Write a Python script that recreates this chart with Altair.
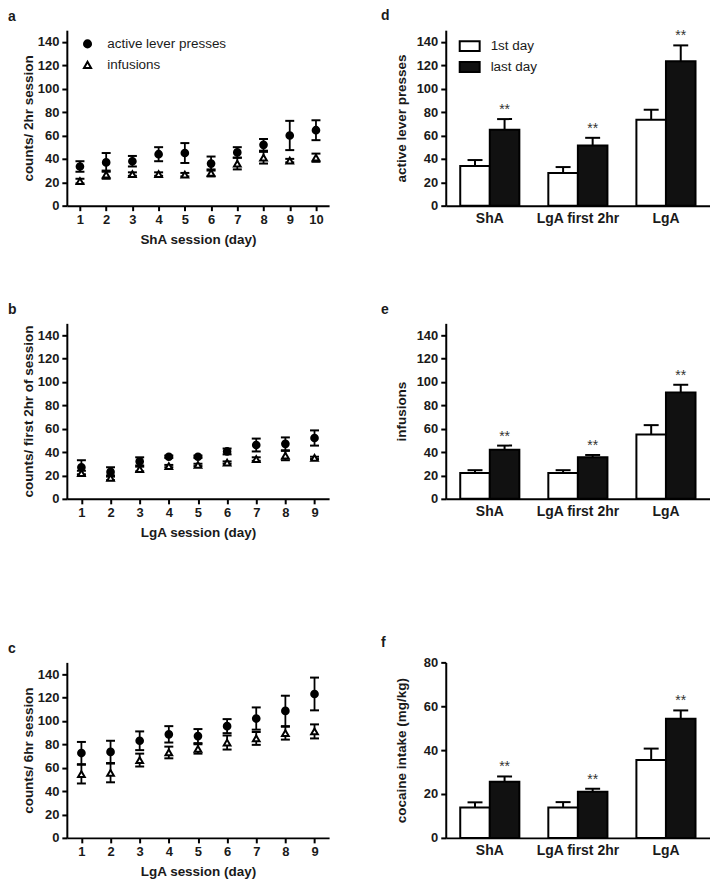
import altair as alt
import pandas as pd

FONT = "Liberation Sans"
TXT = "#1a1a1a"

series_names = ["active lever presses", "infusions"]

# ---- panel a: ShA sessions (counts / 2hr session)
a_days = [1, 2, 3, 4, 5, 6, 7, 8, 9, 10]
a_press = [33.5, 37, 38, 44, 45, 36, 45.5, 52, 60, 64.5]
a_press_sem = [4.5, 8, 4.5, 6, 8.5, 6, 4.5, 5, 12.5, 8.5]
a_inf = [21, 26.5, 27, 27, 26.5, 28, 36, 41, 38.5, 41]
a_inf_sem = [2, 3.5, 1.5, 1.5, 1.5, 3, 5, 5, 1.5, 3.5]

# ---- panel b: LgA sessions (counts / first 2hr)
b_days = [1, 2, 3, 4, 5, 6, 7, 8, 9]
b_press = [27, 23, 32, 36, 36, 40.5, 46, 47, 52]
b_press_sem = [6, 4, 3.5, 1, 1, 2.5, 5.5, 5.5, 6.5]
b_inf = [22, 18, 25.5, 28, 29, 31, 34, 37, 35]
b_inf_sem = [2, 2, 2, 1, 1, 1, 1.5, 4, 1]

# ---- panel c: LgA sessions (counts / 6hr session)
c_days = [1, 2, 3, 4, 5, 6, 7, 8, 9]
c_press = [72.5, 73.5, 83, 88.5, 87, 95.5, 102, 108.5, 123]
c_press_sem = [9.5, 9.5, 8, 7, 6, 6, 9.5, 13, 14]
c_inf = [54.5, 55.5, 66.5, 73, 76, 81.5, 85, 89.5, 91]
c_inf_sem = [8, 8, 5.5, 5, 4, 6, 5.5, 5.5, 6]

# ---- bar panels
groups = ["ShA", "LgA first 2hr", "LgA"]
day_labels = ["1st day", "last day"]

d_first = [34, 28, 73.5]
d_first_err = [5, 5, 8.5]
d_last = [65, 51.5, 123.5]
d_last_err = [9, 6.5, 13.5]

e_first = [22, 22, 55]
e_first_err = [2.5, 2.5, 8]
e_last = [42, 35.5, 91]
e_last_err = [3.5, 2, 6.5]

f_first = [13.8, 13.9, 35.5]
f_first_err = [2.4, 2.4, 5.2]
f_last = [25.6, 21, 54.3]
f_last_err = [2.4, 1.4, 3.8]

LEFT_W, RIGHT_W, PH = 263, 265, 176


def letter_title(t, dx):
    return alt.TitleParams(text=t, anchor="start", frame="group", dx=dx, dy=17, fontSize=14,
                           fontWeight="bold", font=FONT, color=TXT, baseline="alphabetic",
                           offset=12)


def session_df(days, press, press_sem, inf, inf_sem):
    rows = []
    for d, m, s in zip(days, press, press_sem):
        rows.append({"day": d, "series": series_names[0], "mean": m, "lo": m - s, "hi": m + s})
    for d, m, s in zip(days, inf, inf_sem):
        rows.append({"day": d, "series": series_names[1], "mean": m, "lo": m - s, "hi": m + s})
    return pd.DataFrame(rows)


def session_panel(df, letter, ytitle, xtitle, ndays, legend):
    base = alt.Chart(df)
    x = alt.X("day:Q", scale=alt.Scale(domain=[0.5, ndays + 0.5], nice=False, zero=False),
              axis=alt.Axis(values=list(range(1, ndays + 1)), format="d", title=xtitle,
                            titlePadding=6))
    yscale = alt.Scale(domain=[0, 150], nice=False)
    yaxis = alt.Axis(values=list(range(0, 141, 20)), title=ytitle, titleX=-31)
    rules = base.mark_rule(color="black", strokeWidth=1.8).encode(
        x=x, y=alt.Y("lo:Q", scale=yscale, axis=yaxis), y2="hi:Q")
    cap_hi = base.mark_tick(orient="horizontal", size=9, thickness=2, color="black", opacity=1).encode(
        x=x, y=alt.Y("hi:Q", scale=yscale, axis=yaxis))
    cap_lo = base.mark_tick(orient="horizontal", size=9, thickness=2, color="black", opacity=1).encode(
        x=x, y=alt.Y("lo:Q", scale=yscale, axis=yaxis))
    if legend:
        leg = alt.Legend(title=None, orient="none", legendX=14, legendY=7, padding=0,
                         labelFont=FONT, labelFontSize=13.5, labelColor=TXT,
                         symbolStrokeColor="black", symbolStrokeWidth=2, symbolSize=50,
                         rowPadding=5, labelOffset=13)
    else:
        leg = None
    pts = base.mark_point(filled=False, strokeWidth=2, opacity=1, size=45).encode(
        x=x, y=alt.Y("mean:Q", scale=yscale, axis=yaxis),
        shape=alt.Shape("series:N", scale=alt.Scale(domain=series_names, range=["circle", "triangle-up"]),
                        legend=leg),
        fill=alt.Fill("series:N", scale=alt.Scale(domain=series_names, range=["black", "white"]),
                      legend=leg),
        stroke=alt.Stroke("series:N", scale=alt.Scale(domain=series_names, range=["black", "black"]),
                          legend=leg),
    )
    return alt.layer(rules, cap_hi, cap_lo, pts).properties(
        width=LEFT_W, height=PH, title=letter_title(letter, -59))


def bar_df(first, first_err, last, last_err):
    rows = []
    for g, v, e in zip(groups, first, first_err):
        rows.append({"group": g, "day": day_labels[0], "value": v, "top": v + e})
    for g, v, e in zip(groups, last, last_err):
        rows.append({"group": g, "day": day_labels[1], "value": v, "top": v + e})
    return pd.DataFrame(rows)


def bar_panel(df, letter, ytitle, ymax, yvals, legend):
    base = alt.Chart(df)
    x = alt.X("group:N", sort=groups, scale=alt.Scale(paddingInner=0, paddingOuter=0),
              axis=alt.Axis(title=None, labelAngle=0, ticks=False, labelFontSize=14, labelPadding=6))
    xo = alt.XOffset("day:N", sort=day_labels,
                     scale=alt.Scale(domain=day_labels, paddingInner=0, paddingOuter=0.49))
    yscale = alt.Scale(domain=[0, ymax], nice=False)
    yaxis = alt.Axis(values=yvals, title=ytitle, titleX=-37)
    if legend:
        leg = alt.Legend(title=None, orient="none", legendX=13, legendY=5, padding=0,
                         labelFont=FONT, labelFontSize=13.5, labelColor=TXT,
                         symbolType="M-1,-0.5H1V0.5H-1Z", symbolSize=400,
                         symbolStrokeColor="black", symbolStrokeWidth=2,
                         rowPadding=1, labelOffset=10)
    else:
        leg = None
    bars = base.mark_bar(stroke="black", strokeWidth=2).encode(
        x=x, xOffset=xo,
        y=alt.Y("value:Q", scale=yscale, axis=yaxis),
        fill=alt.Fill("day:N", scale=alt.Scale(domain=day_labels, range=["white", "#111111"]), legend=leg),
    )
    err = base.mark_rule(color="black", strokeWidth=2).encode(
        x=x, xOffset=xo, y=alt.Y("value:Q", scale=yscale, axis=yaxis), y2="top:Q")
    cap = base.mark_tick(orient="horizontal", size=15, thickness=2, color="black", opacity=1).encode(
        x=x, xOffset=xo, y=alt.Y("top:Q", scale=yscale, axis=yaxis))
    stars = base.transform_filter(alt.datum.day == day_labels[1]).mark_text(
        text="**", font=FONT, fontSize=14, color="#333333", baseline="alphabetic", dy=-5).encode(
        x=x, xOffset=xo, y=alt.Y("top:Q", scale=yscale, axis=yaxis))
    return alt.layer(bars, err, cap, stars).properties(
        width=RIGHT_W, height=PH, title=letter_title(letter, -65))


pa = session_panel(session_df(a_days, a_press, a_press_sem, a_inf, a_inf_sem), "a",
                   "counts/ 2hr session", "ShA session (day)", 10, True)
pb = session_panel(session_df(b_days, b_press, b_press_sem, b_inf, b_inf_sem), "b",
                   "counts/ first 2hr of session", "LgA session (day)", 9, False)
pc = session_panel(session_df(c_days, c_press, c_press_sem, c_inf, c_inf_sem), "c",
                   "counts/ 6hr session", "LgA session (day)", 9, False)

pd_ = bar_panel(bar_df(d_first, d_first_err, d_last, d_last_err), "d", "active lever presses",
                150, list(range(0, 141, 20)), True)
pe = bar_panel(bar_df(e_first, e_first_err, e_last, e_last_err), "e", "infusions",
               150, list(range(0, 141, 20)), False)
pf = bar_panel(bar_df(f_first, f_first_err, f_last, f_last_err), "f", "cocaine intake (mg/kg)",
               80, [0, 20, 40, 60, 80], False)

IND = dict(fill="independent", shape="independent", stroke="independent")

row1 = alt.hconcat(pa, pd_, spacing=52).resolve_scale(**IND)
row2 = alt.hconcat(pb, pe, spacing=52).resolve_scale(**IND)
row3 = alt.hconcat(pc, pf, spacing=52).resolve_scale(**IND)

top = alt.vconcat(row1, row2, spacing=57).resolve_scale(**IND)

chart = alt.vconcat(top, row3, spacing=97).resolve_scale(**IND).properties(
    padding=0, background="white"
).configure_view(stroke=None).configure_axis(
    domainColor="black", domainWidth=2, tickColor="black", tickWidth=2, tickSize=5,
    labelFont=FONT, labelFontSize=13, labelFontWeight="bold", labelColor=TXT, labelPadding=3,
    titleFont=FONT, titleFontSize=13.5, titleFontWeight="bold", titleColor=TXT, titlePadding=3,
    grid=False,
)

chart.save("out.html", embed_options={"renderer": "svg", "actions": False})
